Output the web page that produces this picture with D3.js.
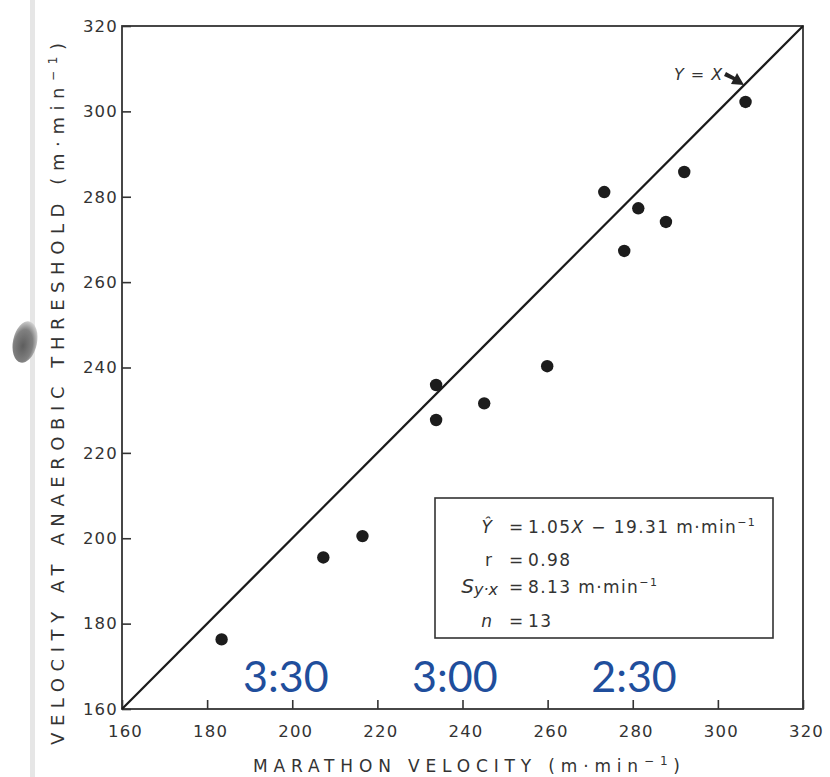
<!DOCTYPE html>
<html>
<head>
<meta charset="utf-8">
<script src="https://cdn.jsdelivr.net/npm/d3@7/dist/d3.min.js"></script>
<style>
  html, body { margin: 0; padding: 0; background: #fff; }
  svg { display: block; }
  .tick text { font-family: "DejaVu Sans", sans-serif; font-size: 16.5px; fill: #333; letter-spacing: 1.2px; }
  .tick line { stroke: #333; stroke-width: 1.6; }
</style>
</head>
<body>
<svg id="chart" width="830" height="777"></svg>
<script>
// Marathon velocity vs. velocity at anaerobic threshold (m·min⁻¹)
const marathonVelocity = [183.4, 207.3, 216.5, 233.8, 233.8, 245.1, 259.9, 273.3, 278.0, 281.3, 287.8, 292.1, 306.5];
const thresholdVelocity = [176.3, 195.5, 200.5, 235.9, 227.7, 231.6, 240.3, 281.1, 267.3, 277.3, 274.1, 285.8, 302.2];

const xTicks = [160, 180, 200, 220, 240, 260, 280, 300, 320];
const yTicks = [160, 180, 200, 220, 240, 260, 280, 300, 320];

// Finishing times, placed along the marathon-velocity axis
const finishLabels = ["3:30", "3:00", "2:30"];
const finishVelocity = [198.5, 238.2, 280.3];

// Regression summary
const statNames = ["Ŷ", "r", "Sy·x", "n"];
const statValues = ["1.05X − 19.31 m·min", "0.98", "8.13 m·min", "13"];

const svg = d3.select("#chart");

// Scan edge strip and smudge on the left margin
const defs = svg.append("defs");
const grad = defs.append("radialGradient").attr("id", "smudge").attr("cx", "45%").attr("cy", "60%").attr("r", "60%");
grad.append("stop").attr("offset", "0%").attr("stop-color", "#5e5e5e");
grad.append("stop").attr("offset", "65%").attr("stop-color", "#808080");
grad.append("stop").attr("offset", "100%").attr("stop-color", "#d0d0d0");
svg.append("rect").attr("x", 30).attr("y", 0).attr("width", 5).attr("height", 777).attr("fill", "#e6e6e6");
svg.append("ellipse").attr("cx", 25).attr("cy", 342).attr("rx", 12).attr("ry", 21)
  .attr("transform", "rotate(12 25 342)").attr("fill", "url(#smudge)");

const x = d3.scaleLinear().domain([160, 320]).range([122, 803]);
const y = d3.scaleLinear().domain([160, 320]).range([709, 26]);

// Axes with inward ticks
const xAxis = d3.axisBottom(x).tickValues(xTicks).tickSize(-9).tickPadding(16).tickFormat(d3.format("d"));
const yAxis = d3.axisLeft(y).tickValues(yTicks).tickSize(-9).tickPadding(4).tickFormat(d3.format("d"));

const gx = svg.append("g").attr("transform", `translate(0,${y(160)})`).call(xAxis);
gx.select(".domain").remove();
gx.selectAll(".tick text").attr("dx", 3);
const gy = svg.append("g").attr("transform", `translate(${x(160)},0)`).call(yAxis);
gy.select(".domain").remove();

// Frame
svg.append("rect")
  .attr("x", x(160)).attr("y", y(320))
  .attr("width", x(320) - x(160)).attr("height", y(160) - y(320))
  .attr("fill", "none").attr("stroke", "#333").attr("stroke-width", 1.8);

// Identity line Y = X
svg.append("line")
  .attr("x1", x(160)).attr("y1", y(160)).attr("x2", x(320)).attr("y2", y(320))
  .attr("stroke", "#1a1a1a").attr("stroke-width", 2.2);

// Points
svg.append("g").selectAll("circle")
  .data(marathonVelocity.map((v, i) => [v, thresholdVelocity[i]]))
  .join("circle")
  .attr("cx", d => x(d[0])).attr("cy", d => y(d[1])).attr("r", 6.2)
  .attr("fill", "#1c1c1c");

// Y = X label and arrow
svg.append("text")
  .attr("x", 674).attr("y", 80)
  .attr("font-family", "DejaVu Sans, sans-serif").attr("font-style", "italic")
  .attr("font-size", 16).attr("fill", "#333").attr("letter-spacing", 1)
  .text("Y = X");
svg.append("path")
  .attr("d", "M726,72 L735,77 L737,73 L744,85 L731,84 L733,80 L724,76 Z")
  .attr("fill", "#222");

// Axis titles
svg.append("text")
  .attr("x", 253).attr("y", 772)
  .attr("font-family", "DejaVu Sans, sans-serif").attr("font-size", 17).attr("fill", "#333")
  .attr("textLength", 427).attr("lengthAdjust", "spacing")
  .call(t => {
    t.append("tspan").text("MARATHON VELOCITY  (m·min");
    t.append("tspan").attr("dy", -7).attr("font-size", 12).text("−1");
    t.append("tspan").attr("dy", 7).text(")");
  });

svg.append("text")
  .attr("transform", "translate(64,745) rotate(-90)")
  .attr("font-family", "DejaVu Sans, sans-serif").attr("font-size", 18).attr("fill", "#333")
  .attr("textLength", 702).attr("lengthAdjust", "spacing")
  .call(t => {
    t.append("tspan").text("VELOCITY AT ANAEROBIC THRESHOLD  (m·min");
    t.append("tspan").attr("dy", -7).attr("font-size", 12).text("−1");
    t.append("tspan").attr("dy", 7).text(")");
  });

// Regression statistics box
svg.append("rect")
  .attr("x", 435).attr("y", 498).attr("width", 338).attr("height", 140)
  .attr("fill", "#fff").attr("stroke", "#333").attr("stroke-width", 1.6);

const statBase = [533, 566, 593, 627];
const statG = svg.append("g")
  .attr("font-family", "DejaVu Sans, sans-serif").attr("font-size", 17).attr("fill", "#333");
statNames.forEach((name, i) => {
  const label = statG.append("text").attr("x", name === "Sy·x" ? 498 : 492).attr("y", statBase[i]).attr("text-anchor", "end");
  if (name === "Sy·x") {
    label.attr("font-style", "italic").attr("font-size", 20);
    label.append("tspan").text("S");
    label.append("tspan").attr("font-size", 16).attr("dy", 2).text("y·x");
  } else if (name === "Ŷ" || name === "n") {
    label.attr("font-style", "italic").text(name);
  } else {
    label.text(name);
  }
  statG.append("text").attr("x", 509).attr("y", statBase[i]).text("=");
  const val = statG.append("text").attr("x", 528).attr("y", statBase[i]).attr("letter-spacing", 1.4);
  if (i === 0) {
    val.append("tspan").text("1.05");
    val.append("tspan").attr("font-style", "italic").text("X");
    val.append("tspan").text(" − 19.31 m·min");
    val.append("tspan").attr("dy", -7).attr("font-size", 11).text("−1");
  } else if (i === 2) {
    val.append("tspan").text("8.13 m·min");
    val.append("tspan").attr("dy", -7).attr("font-size", 11).text("−1");
  } else {
    val.text(statValues[i]);
  }
});

// Finishing-time annotations
svg.append("g").selectAll("text")
  .data(finishLabels)
  .join("text")
  .attr("x", (d, i) => x(finishVelocity[i]))
  .attr("y", 692)
  .attr("text-anchor", "middle")
  .attr("font-family", "Lato, 'Open Sans', sans-serif")
  .attr("font-size", 43)
  .attr("fill", "#1f4e9c")
  .text(d => d);
</script>
</body>
</html>
